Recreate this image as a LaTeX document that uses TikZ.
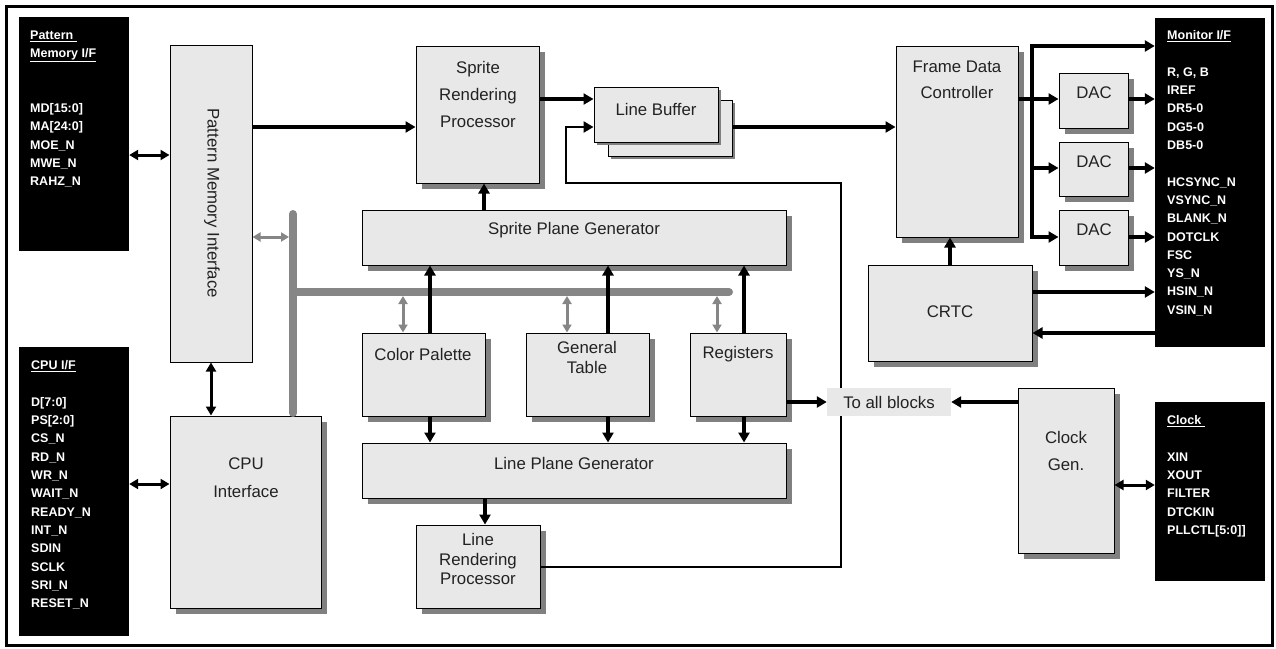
\documentclass[tikz,border=0pt]{standalone}
\usepackage{fontspec}
\setmainfont{Liberation Sans}
\usepackage{tikz}
\usetikzlibrary{positioning}
\usetikzlibrary{arrows.meta}
\usetikzlibrary{shadows}
\definecolor{boxgray}{HTML}{E8E8E8}
\definecolor{shadegray}{HTML}{808080}
\definecolor{busgray}{HTML}{868686}
\definecolor{inkgray}{HTML}{222222}

\begin{document}
\begin{tikzpicture}[x=1pt,y=-1pt,
    blk/.style={draw,fill=boxgray,line width=1pt,inner sep=0pt,
      drop shadow={shadow xshift=6pt,shadow yshift=-6pt,fill=shadegray,opacity=1}},
    lbox/.style={draw,fill=boxgray,line width=1pt,inner sep=0pt,
      drop shadow={shadow xshift=3pt,shadow yshift=-3pt,fill=shadegray,opacity=1}},
    flat/.style={draw,fill=boxgray,line width=1pt,inner sep=0pt},
    pad/.style={fill=black,inner sep=0pt},
    txt/.style={align=center,text=inkgray,font=\fontsize{16.8}{19.5}\selectfont},
    sig/.style={align=left,anchor=north west,inner sep=0pt,text=white,
      font=\fontsize{12.5}{18.3}\selectfont\bfseries},
    arr/.style={-{Triangle[length=10pt,width=11pt]},line width=3.4pt},
    darr/.style={{Triangle[length=9pt,width=10pt]}-{Triangle[length=9pt,width=10pt]},line width=3pt},
    garr/.style={{Triangle[length=8pt,width=9pt]}-{Triangle[length=8pt,width=9pt]},line width=3pt,busgray},
    bus/.style={line width=8pt,busgray,line cap=round},
    wire/.style={-{Triangle[length=10pt,width=11pt]},line width=2.8pt}]
   \useasboundingbox (0,0) rectangle (1276,648);
   \draw[line width=3pt] (6,6) rectangle (1272,645);

   % interface pads
   \node[pad,minimum width=110pt,minimum height=234pt] (pmif) at (74,134) {};
   \node[pad,minimum width=110pt,minimum height=289pt] (cpuif) at (74,491.5) {};
   \node[pad,minimum width=110pt,minimum height=329pt] (monif) at (1210,182.5) {};
   \node[pad,minimum width=110pt,minimum height=179pt] (clkif) at (1210,491.5) {};
   \node[sig] (pmifs) at (30,30.5) {\underline{Pattern\ }\\\underline{Memory I/F}\\[36.6pt]
      MD[15:0]\\MA[24:0]\\MOE\_N\\MWE\_N\\RAHZ\_N};
   \node[sig] (cpuifs) at (31,360.5) {\underline{CPU I/F}\\[18.3pt]
      D[7:0]\\PS[2:0]\\CS\_N\\RD\_N\\WR\_N\\WAIT\_N\\READY\_N\\INT\_N\\SDIN\\SCLK\\SRI\_N\\RESET\_N};
   \node[sig] (monifs) at (1167,30.5) {\underline{Monitor I/F}\\[18.3pt]
      R, G, B\\IREF\\DR5-0\\DG5-0\\DB5-0\\[18.3pt]
      HCSYNC\_N\\VSYNC\_N\\BLANK\_N\\DOTCLK\\FSC\\YS\_N\\HSIN\_N\\VSIN\_N};
   \node[sig] (clkifs) at (1167,415.5) {\underline{Clock\ }\\[18.3pt]
      XIN\\XOUT\\FILTER\\DTCKIN\\PLLCTL[5:0]]};

   % blocks
   \node[flat,minimum width=82pt,minimum height=317pt] (pmi) at (211,203.5) {};
   \node[blk,minimum width=151pt,minimum height=192pt] (cpu) at (245.5,512) {};
   \node[blk,minimum width=123pt,minimum height=137pt] (srp) at (477.5,114.5) {};
   \node[lbox,minimum width=124pt,minimum height=56pt] (lbufb) at (670,128) {};
   \node[lbox,minimum width=124pt,minimum height=55pt] (lbuf) at (656,114.5) {};
   \node[blk,minimum width=424pt,minimum height=55pt] (spg) at (574,237.5) {};
   \node[blk,minimum width=123pt,minimum height=83pt] (cpal) at (423.5,374.5) {};
   \node[blk,minimum width=123pt,minimum height=83pt] (gtab) at (587.5,374.5) {};
   \node[blk,minimum width=96pt,minimum height=83pt] (regs) at (738,374.5) {};
   \node[blk,minimum width=424pt,minimum height=55pt] (lpg) at (574,470.5) {};
   \node[blk,minimum width=124pt,minimum height=83pt] (lrp) at (478,566.5) {};
   \node[blk,minimum width=122pt,minimum height=191pt] (fdc) at (957,141.5) {};
   \node[blk,minimum width=164pt,minimum height=96pt] (crtc) at (950,313) {};
   \node[blk,minimum width=69pt,minimum height=55pt] (dac1) at (1093.5,100.5) {};
   \node[blk,minimum width=69pt,minimum height=54pt] (dac2) at (1093.5,169) {};
   \node[blk,minimum width=69pt,minimum height=55pt] (dac3) at (1093.5,237.5) {};
   \node[blk,minimum width=96pt,minimum height=165pt] (clk) at (1066,470.5) {};

   % block texts
   \node[txt,rotate=-90] (pmit) at (212,203) {Pattern Memory Interface};
   \node[txt] (cput) at (246,477.5) {CPU\\[9pt]Interface};
   \node[txt] (srpt) at (478,94) {Sprite\\[7.5pt]Rendering\\[7.5pt]Processor};
   \node[txt] (lbuft) at (656,109) {Line Buffer};
   \node[txt] (spgt) at (574,230) {Sprite Plane Generator};
   \node[txt] (cpalt) at (423,354) {Color Palette};
   \node[txt] (gtabt) at (587,357.5) {General\\Table};
   \node[txt] (regst) at (738,354) {Registers};
   \node[txt] (lpgt) at (574,463) {Line Plane Generator};
   \node[txt] (lrpt) at (478,559) {Line\\Rendering\\Processor};
   \node[txt] (fdct) at (957,80) {Frame Data\\[6.5pt]Controller};
   \node[txt] (crtct) at (950,312) {CRTC};
   \node[txt] (dac1t) at (1094,93) {DAC};
   \node[txt] (dac2t) at (1094,162) {DAC};
   \node[txt] (dac3t) at (1094,230) {DAC};
   \node[txt] (clkt) at (1066,450.5) {Clock\\[7.5pt]Gen.};

   % gray bus
   \coordinate (bt) at (293,214);
   \coordinate (bb) at (293,413);
   \coordinate (bm) at (293,292);
   \coordinate (be) at (729,292);
   \draw[bus] (bt) -- (bb);
   \draw[bus] (bm) -- (be);
   \draw[garr] (pmi.east |- 0,237) -- (289,237);
   \draw[garr,shorten <=4pt] (bm -| 403,0) -- (cpal.north -| 403,0);
   \draw[garr,shorten <=4pt] (bm -| 567,0) -- (gtab.north -| 567,0);
   \draw[garr,shorten <=4pt] (bm -| 717,0) -- (regs.north -| 717,0);

   % data paths
   \draw[darr] (pmif.east |- 0,155) -- (pmi.west |- 0,155);
   \draw[darr] (cpuif.east |- 0,484) -- (cpu.west |- 0,484);
   \draw[darr] (pmi.south) -- (pmi.south |- cpu.north);
   \draw[darr] (clk.east |- 0,485) -- (clkif.west |- 0,485);
   \draw[arr] (pmi.east |- 0,127) -- (srp.west |- 0,127);
   \draw[arr] (srp.east |- 0,99) -- (lbuf.west |- 0,99);
   \draw[arr] (spg.north -| 484,0) -- (srp.south -| 484,0);
   \draw[arr] (cpal.north -| 430,0) -- (spg.south -| 430,0);
   \draw[arr] (gtab.north -| 608,0) -- (spg.south -| 608,0);
   \draw[arr] (regs.north -| 744,0) -- (spg.south -| 744,0);
   \draw[arr] (cpal.south -| 430,0) -- (lpg.north -| 430,0);
   \draw[arr] (gtab.south -| 608,0) -- (lpg.north -| 608,0);
   \draw[arr] (regs.south -| 744,0) -- (lpg.north -| 744,0);
   \draw[arr] (lpg.south -| 485,0) -- (lrp.north -| 485,0);
   \coordinate (c1) at (841,183);
   \coordinate (c2) at (566,127);
   \draw[wire] (lrp.east |- 0,567) -| (c1) -| (c2) -- (lbuf.west |- c2);
   \draw[arr] (lbufb.east |- 0,127) -- (fdc.west |- 0,127);
   \draw[arr] (crtc.north) -- (crtc.north |- fdc.south);
   \draw[arr] (crtc.east |- 0,292) -- (monif.west |- 0,292);
   \draw[arr] (monif.west |- 0,333) -- (crtc.east |- 0,333);
   \coordinate (j1) at (1032,46);
   \coordinate (j3) at (1032,237);
   \draw[arr] ([yshift=-1.7pt]j3) |- (monif.west |- j1);
   \draw[arr] (fdc.east |- 0,99) -- (dac1.west |- 0,99);
   \draw[arr] (1032,168) -- (dac2.west |- 0,168);
   \draw[arr] (j3) -- (dac3.west |- j3);
   \draw[arr] (dac1.east |- 0,99) -- (monif.west |- 0,99);
   \draw[arr] (dac2.east |- 0,168) -- (monif.west |- 0,168);
   \draw[arr] (dac3.east |- 0,237) -- (monif.west |- 0,237);

   % to all blocks
   \node[fill=boxgray,minimum width=124pt,minimum height=28pt,inner sep=0pt,
      text=inkgray,font=\fontsize{16.8}{19.5}\selectfont] (toall) at (889,402) {To all blocks};
   \draw[arr] (regs.east |- 0,402) -- (toall.west |- 0,402);
   \draw[arr] (clk.west |- 0,402) -- (toall.east |- 0,402);
\end{tikzpicture}
\end{document}
